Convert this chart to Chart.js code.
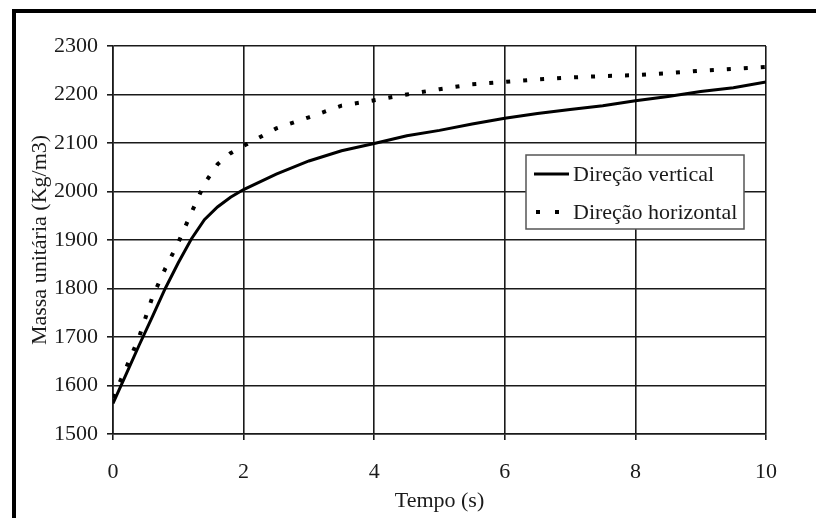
<!DOCTYPE html>
<html>
<head>
<meta charset="utf-8">
<script src="https://cdn.jsdelivr.net/npm/chart.js@4/dist/chart.umd.min.js"></script>
<style>
  html, body { margin: 0; padding: 0; background: #fff; }
  #wrap { width: 816px; height: 518px; }
</style>
</head>
<body>
<div id="wrap"><canvas id="massChart" width="816" height="518"></canvas></div>
<script>
// Massa unitária em função do tempo
const timeV = [0, 0.2, 0.4, 0.6, 0.8, 1.0, 1.2, 1.4, 1.6, 1.8, 2.0, 2.5, 3.0, 3.5, 4.0, 4.5, 5.0, 5.5, 6.0, 6.5, 7.0, 7.5, 8.0, 8.5, 9.0, 9.5, 10.0];
const massVertical = [1563, 1623, 1683, 1741, 1800, 1853, 1902, 1942, 1968, 1988, 2004, 2036, 2063, 2084, 2099, 2115, 2126, 2139, 2151, 2161, 2169, 2177, 2187, 2196, 2206, 2214, 2226];

const timeH = [0, 0.2, 0.4, 0.6, 0.8, 1.0, 1.2, 1.4, 1.6, 1.8, 2.0, 2.5, 3.0, 3.5, 4.0, 4.5, 5.0, 5.5, 6.0, 6.5, 7.0, 7.5, 8.0, 8.5, 9.0, 9.5, 10.0];
const massHorizontal = [1575, 1636, 1700, 1781, 1841, 1895, 1956, 2016, 2056, 2079, 2094, 2130, 2153, 2177, 2188, 2200, 2211, 2221, 2226, 2231, 2235, 2238, 2240, 2244, 2249, 2253, 2257];

const seriesLabels = ["Direção vertical", "Direção horizontal"];
const xTitle = "Tempo (s)";
const yTitle = "Massa unitária (Kg/m3)";

const FONT = "'Liberation Serif', 'Times New Roman', serif";
const FSIZE = 22;
const INK = "#1a1a1a";

function toPoints(xs, ys) {
    return xs.map((x, i) => ({ x: x, y: ys[i] }));
}

// cadre noir (haut + gauche)
const framePlugin = {
    id: "frame",
    beforeDraw(chart) {
        const c = chart.ctx;
        c.save();
        c.fillStyle = "#fff";
        c.fillRect(0, 0, chart.width, chart.height);
        c.strokeStyle = "#000";
        c.lineWidth = 4;
        c.beginPath();
        c.moveTo(14, chart.height);
        c.lineTo(14, 11);
        c.lineTo(chart.width, 11);
        c.stroke();
        c.restore();
    },
};

// légende dans la zone du graphique
const boxLegend = {
    id: "boxLegend",
    afterDraw(chart) {
        const c = chart.ctx;
        const bx = 526, by = 155, bw = 218, bh = 74;
        c.save();
        c.fillStyle = "#fff";
        c.fillRect(bx, by, bw, bh);
        c.strokeStyle = "#555";
        c.lineWidth = 1.5;
        c.strokeRect(bx, by, bw, bh);
        c.font = FSIZE + "px " + FONT;
        c.textBaseline = "middle";
        c.fillStyle = INK;
        chart.data.datasets.forEach((ds, i) => {
            const y = by + 19 + i * 38;
            c.strokeStyle = ds.borderColor;
            c.lineWidth = ds.borderWidth;
            c.beginPath();
            if (ds.borderDash) {
                c.setLineDash([ds.borderDash[0], 15]);
                c.moveTo(bx + 10, y);
                c.lineTo(bx + 34, y);
            } else {
                c.moveTo(bx + 8, y);
                c.lineTo(bx + 43, y);
            }
            c.stroke();
            c.setLineDash([]);
            c.fillText(ds.label, bx + 47, y + 1);
        });
        c.restore();
    },
};

const ctx = document.getElementById("massChart").getContext("2d");
new Chart(ctx, {
    type: "line",
    data: {
        datasets: [
            {
                label: seriesLabels[0],
                data: toPoints(timeV, massVertical),
                borderColor: "#000",
                borderWidth: 3,
                pointRadius: 0,
                tension: 0,
                fill: false,
            },
            {
                label: seriesLabels[1],
                data: toPoints(timeH, massHorizontal),
                borderColor: "#000",
                borderWidth: 4,
                borderDash: [4, 13],
                borderCapStyle: "butt",
                pointRadius: 0,
                tension: 0,
                fill: false,
            },
        ],
    },
    options: {
        responsive: false,
        animation: false,
        layout: { padding: { left: 27, top: 46, right: 50, bottom: 1 } },
        plugins: {
            legend: { display: false },
            tooltip: { enabled: false },
        },
        scales: {
            x: {
                type: "linear",
                min: 0,
                max: 10,
                ticks: { stepSize: 2, color: INK, padding: 19, font: { family: FONT, size: FSIZE } },
                grid: { color: INK, lineWidth: 1.6, tickLength: 6 },
                border: { color: INK, width: 1.6 },
                title: { display: true, text: xTitle, color: INK, padding: { top: 0, bottom: 3 }, font: { family: FONT, size: FSIZE } },
                afterFit(scale) { scale.height = 83; },
            },
            y: {
                min: 1500,
                max: 2300,
                ticks: {
                    stepSize: 100,
                    color: INK,
                    padding: 9,
                    font: { family: FONT, size: FSIZE },
                    callback: (v) => String(v),
                },
                grid: { color: INK, lineWidth: 1.6, tickLength: 6 },
                border: { color: INK, width: 1.6 },
                title: { display: true, text: yTitle, color: INK, padding: { top: 0, bottom: 0 }, font: { family: FONT, size: FSIZE } },
                afterFit(scale) { scale.width = 86; },
            },
        },
    },
    plugins: [framePlugin, boxLegend],
});
</script>
</body>
</html>
